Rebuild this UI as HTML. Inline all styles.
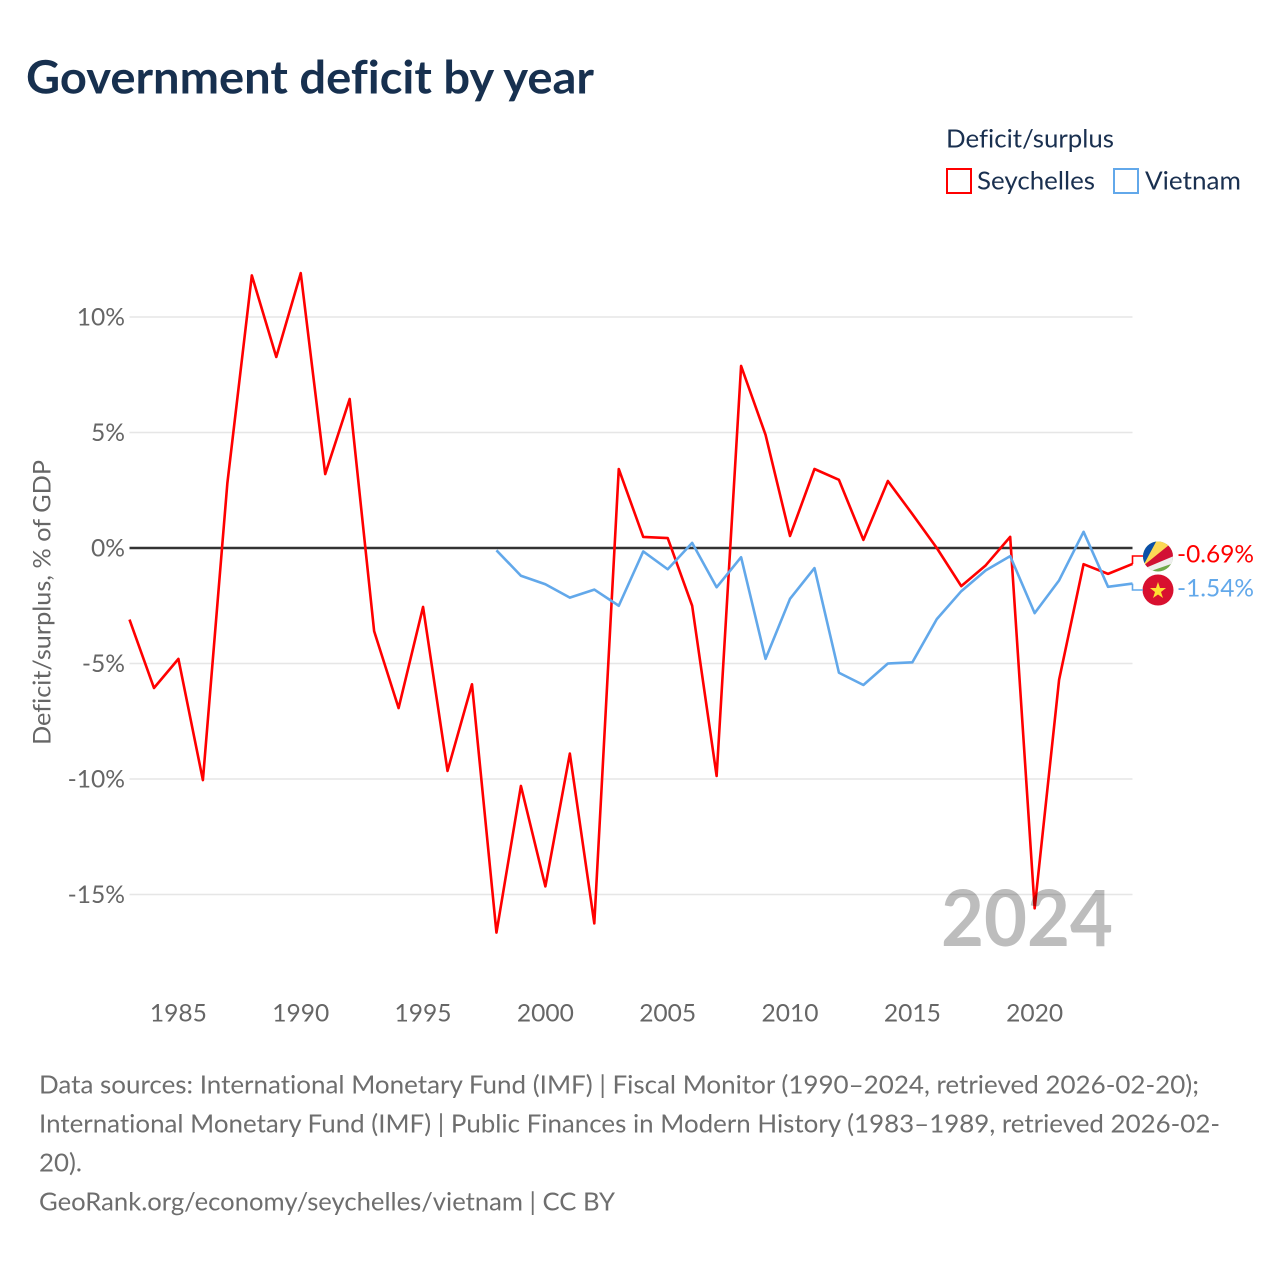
<!DOCTYPE html>
<html lang="en">
<head>
<meta charset="utf-8">
<title>Government deficit by year</title>
<style>
html,body{margin:0;padding:0;background:#fff;}
svg{display:block;}
text{font-family:"Lato","Carlito","Liberation Sans",sans-serif;font-variant-ligatures:none;}
</style>
</head>
<body>
<svg id="chart" width="1280" height="1280" viewBox="0 0 1280 1280" xmlns="http://www.w3.org/2000/svg">
  <rect width="1280" height="1280" fill="#fff"/>
  <text x="26" y="93.5" font-size="46" font-weight="700" fill="#17304f" textLength="568" lengthAdjust="spacingAndGlyphs">Government deficit by year</text>

  <text x="946" y="147.5" font-size="25" fill="#1a3050" textLength="168" lengthAdjust="spacingAndGlyphs">Deficit/surplus</text>
  <rect x="947" y="169" width="24" height="24" fill="#fff" stroke="#ff0000" stroke-width="2"/>
  <text x="977" y="189.5" font-size="25" fill="#1a3050" textLength="118" lengthAdjust="spacingAndGlyphs">Seychelles</text>
  <rect x="1114" y="169" width="24" height="24" fill="#fff" stroke="#62a8ea" stroke-width="2"/>
  <text x="1145" y="189.5" font-size="25" fill="#1a3050" textLength="96" lengthAdjust="spacingAndGlyphs">Vietnam</text>

  <text transform="translate(50.5,602.5) rotate(-90)" text-anchor="middle" font-size="24.6" fill="#666" textLength="285" lengthAdjust="spacingAndGlyphs">Deficit/surplus, % of GDP</text>

  <g id="grid"></g>
  <g id="yticks"></g>
  <g id="xticks"></g>
  <g id="series"></g>

  <defs>
    <clipPath id="flag-clip-sc"><circle cx="1158" cy="556.5" r="15"/></clipPath>
    <clipPath id="flag-clip-vn"><circle cx="1158" cy="590" r="15.5"/></clipPath>
  </defs>
  <g clip-path="url(#flag-clip-sc)">
    <rect x="1142" y="540" width="32" height="34" fill="#6fa84a"/>
    <polygon points="1143,566 1174,553 1174,563 1148,572 1143,572" fill="#eeeeee"/>
    <polygon points="1143,566 1174,537 1174,556 1143,569" fill="#d21034"/>
    <polygon points="1143,566 1158,538 1174,538 1174,541" fill="#fcd856"/>
    <polygon points="1143,566 1143,538 1158,538" fill="#0a4fa8"/>
  </g>
  <g clip-path="url(#flag-clip-vn)">
    <rect x="1142" y="574" width="32" height="32" fill="#d8102f"/>
    <polygon points="1158,582 1160,588 1166,588 1161,592 1163,598 1158,594.5 1153,598 1155,592 1150,588 1156,588" fill="#ffdd33"/>
  </g>
  <g id="end-labels"></g>

  <text x="941" y="946" font-size="78" font-weight="700" fill="#bdbdbd" style="mix-blend-mode:multiply" textLength="172" lengthAdjust="spacingAndGlyphs">2024</text>

  <g font-size="25" fill="#6e6e6e">
    <text x="39" y="1093.5" textLength="1160" lengthAdjust="spacingAndGlyphs">Data sources: International Monetary Fund (IMF) | Fiscal Monitor (1990–2024, retrieved 2026-02-20);</text>
    <text x="39" y="1132.5" textLength="1181" lengthAdjust="spacingAndGlyphs">International Monetary Fund (IMF) | Public Finances in Modern History (1983–1989, retrieved 2026-02-</text>
    <text x="39" y="1171.5" textLength="43" lengthAdjust="spacingAndGlyphs">20).</text>
    <text x="39" y="1210.5" textLength="576" lengthAdjust="spacingAndGlyphs">GeoRank.org/economy/seychelles/vietnam | CC BY</text>
  </g>
</svg>
<script>
const seychellesYears = [1983,1984,1985,1986,1987,1988,1989,1990,1991,1992,1993,1994,1995,1996,1997,1998,1999,2000,2001,2002,2003,2004,2005,2006,2007,2008,2009,2010,2011,2012,2013,2014,2015,2016,2017,2018,2019,2020,2021,2022,2023,2024];
const seychellesValues = [-3.1,-6.06,-4.8,-10.05,2.8,11.8,8.27,11.9,3.2,6.45,-3.6,-6.93,-2.55,-9.65,-5.9,-16.65,-10.3,-14.65,-8.9,-16.25,3.42,0.48,0.43,-2.5,-9.87,7.88,4.9,0.52,3.42,2.95,0.35,2.9,1.47,0.0,-1.65,-0.75,0.48,-15.6,-5.7,-0.7,-1.12,-0.69];
const vietnamYears = [1998,1999,2000,2001,2002,2003,2004,2005,2006,2007,2008,2009,2010,2011,2012,2013,2014,2015,2016,2017,2018,2019,2020,2021,2022,2023,2024];
const vietnamValues = [-0.1,-1.2,-1.57,-2.15,-1.8,-2.5,-0.15,-0.92,0.22,-1.7,-0.4,-4.8,-2.2,-0.87,-5.4,-5.93,-5.0,-4.95,-3.08,-1.87,-0.97,-0.35,-2.82,-1.4,0.7,-1.68,-1.54];
const yTickValues = [10,5,0,-5,-10,-15];
const yTickLabels = ["10%","5%","0%","-5%","-10%","-15%"];
const xTickValues = [1985,1990,1995,2000,2005,2010,2015,2020];
const xTickLabels = ["1985","1990","1995","2000","2005","2010","2015","2020"];

const NS = 'http://www.w3.org/2000/svg';
const PLOT_LEFT = 129.5, PLOT_RIGHT = 1132.5;
function xScale(year){ return PLOT_LEFT + (year - 1983) * (PLOT_RIGHT - PLOT_LEFT) / 41; }
function yScale(v){ return 548 - v * 23.1; }
function make(tag, attrs, parent){
  const el = document.createElementNS(NS, tag);
  for (const k in attrs) el.setAttribute(k, attrs[k]);
  parent.appendChild(el);
  return el;
}
const grid = document.getElementById('grid');
const yticks = document.getElementById('yticks');
const xticks = document.getElementById('xticks');
const series = document.getElementById('series');
const endLabels = document.getElementById('end-labels');

yTickValues.forEach(function(v, i){
  const y = yScale(v);
  const line = make('line', {x1:PLOT_LEFT, x2:PLOT_RIGHT, y1:y, y2:y, stroke: v === 0 ? 'none' : '#e6e6e6', 'stroke-width':1.5}, grid);
  
  
  const t = make('text', {x:125, y:y + 8.5, 'text-anchor':'end', 'font-size':24.6, fill:'#666'}, yticks);
  
  
  t.textContent = yTickLabels[i];
});
xTickValues.forEach(function(v, i){
  const t = make('text', {x:xScale(v), y:1021.5, 'text-anchor':'middle', 'font-size':24.6, fill:'#666', textLength:57, lengthAdjust:'spacingAndGlyphs'}, xticks);
  
  
  t.textContent = xTickLabels[i];
});
const zero = make('line', {x1:PLOT_LEFT, x2:PLOT_RIGHT, y1:yScale(0), y2:yScale(0), stroke:'#333', 'stroke-width':2.5}, series);



function linePath(years, values){
  return years.map(function(yr, i){
    return (i ? 'L' : 'M') + xScale(yr).toFixed(2) + ' ' + yScale(values[i]).toFixed(2);
  }).join(' ');
}
const scLine = make('path', {d:linePath(seychellesYears, seychellesValues), fill:'none', stroke:'#ff0000', 'stroke-width':2.6, 'stroke-linejoin':'round'}, series);


const vnLine = make('path', {d:linePath(vietnamYears, vietnamValues), fill:'none', stroke:'#62a8ea', 'stroke-width':2.6, 'stroke-linejoin':'round'}, series);



function fmt(v){ return v.toFixed(2) + '%'; }
function connector(value, flagY, color){
  const x = xScale(2024), y = yScale(value);
  return make('path', {d:'M' + x + ' ' + y + ' L' + x + ' ' + flagY + ' L1143 ' + flagY, fill:'none', stroke:color, 'stroke-width':1.6}, endLabels);
}
const scConn = connector(seychellesValues[seychellesValues.length - 1], 556, '#ff0000');


const vnConn = connector(vietnamValues[vietnamValues.length - 1], 590, '#62a8ea');



const scLabel = make('text', {x:1177, y:562.5, 'font-size':24.6, fill:'#ff0000', textLength:77, lengthAdjust:'spacingAndGlyphs'}, endLabels);


scLabel.textContent = fmt(seychellesValues[seychellesValues.length - 1]);
const vnLabel = make('text', {x:1177, y:596.5, 'font-size':24.6, fill:'#62a8ea', textLength:77, lengthAdjust:'spacingAndGlyphs'}, endLabels);


vnLabel.textContent = fmt(vietnamValues[vietnamValues.length - 1]);
</script>
</body>
</html>
